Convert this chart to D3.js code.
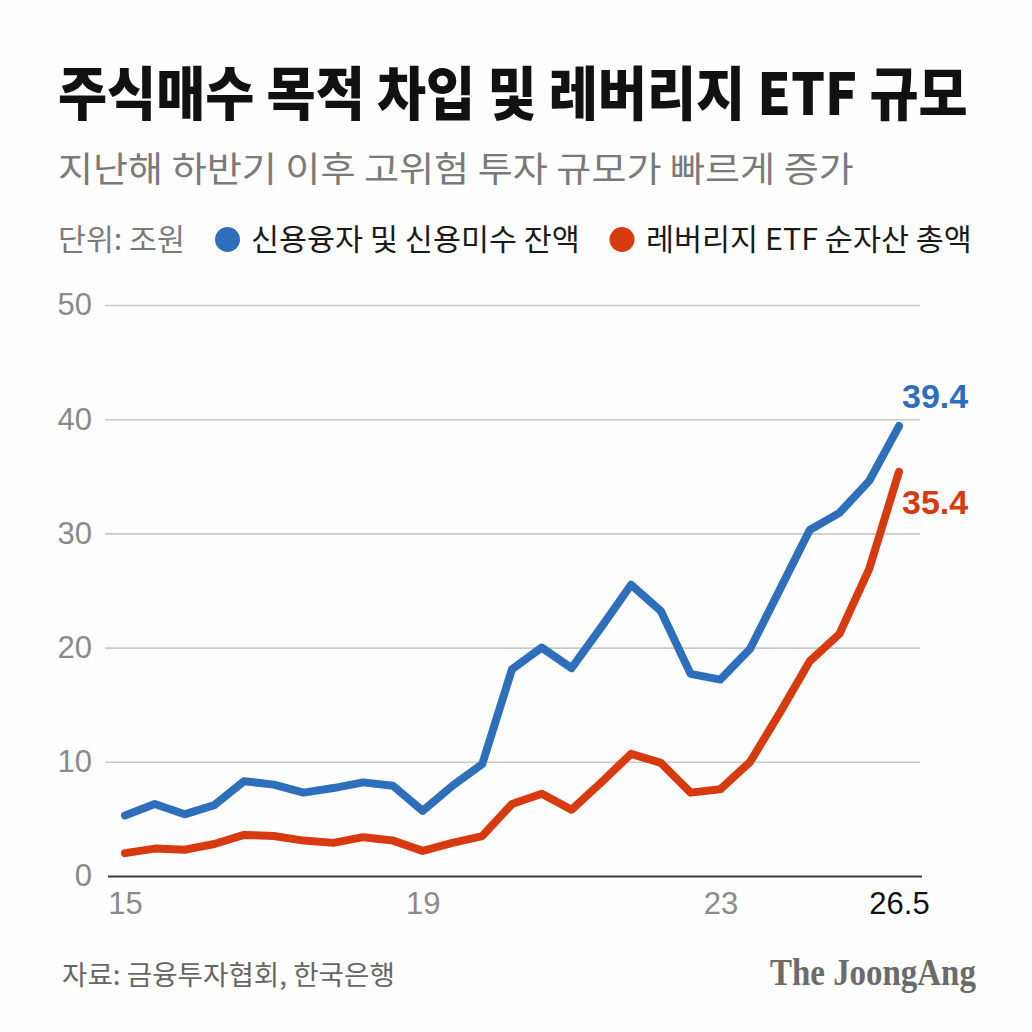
<!DOCTYPE html>
<html>
<head>
<meta charset="utf-8">
<script src="https://cdn.jsdelivr.net/npm/d3@7/dist/d3.min.js"></script>
<style>
  html, body { margin: 0; padding: 0; background: #fefefe; }
  svg { display: block; }
</style>
</head>
<body>
<svg id="chart" width="1032" height="1032"></svg>
<script>
// ---- data ----
const titleText = "주식매수 목적 차입 및 레버리지 ETF 규모";
const subtitleText = "지난해 하반기 이후 고위험 투자 규모가 빠르게 증가";
const unitText = "단위: 조원";
const sourceText = "자료: 금융투자협회, 한국은행";
const logoText = "The JoongAng";
const seriesNames = ["신용융자 및 신용미수 잔액", "레버리지 ETF 순자산 총액"];
// 27 observations, evenly spaced on the category axis
const creditLoans = [5.3, 6.3, 5.4, 6.2, 8.3, 8.0, 7.3, 7.7, 8.2, 7.9, 5.7, 7.9, 9.8, 18.1, 20.0, 18.2, 21.8, 25.5, 23.2, 17.7, 17.2, 19.9, 25.1, 30.3, 31.8, 34.6, 39.4];
const leveragedETF = [2.0, 2.4, 2.3, 2.8, 3.6, 3.5, 3.1, 2.9, 3.4, 3.1, 2.2, 2.9, 3.5, 6.3, 7.2, 5.8, 8.2, 10.7, 9.9, 7.3, 7.6, 10.0, 14.3, 18.8, 21.2, 26.9, 35.4];
const xTickIndex = [0, 10, 20, 26];
const xTickLabels = ["15", "19", "23", "26.5"];
const yTicks = [0, 10, 20, 30, 40, 50];
const endLabels = ["39.4", "35.4"];

// ---- styles ----
const BLUE = "#2d6fbb";
const RED = "#d83a10";
const KR = "'Noto Sans CJK KR', 'Noto Sans', sans-serif";
const NUM = "'Liberation Sans', Arial, sans-serif";

const svg = d3.select("#chart");
svg.append("rect").attr("width", 1032).attr("height", 1032).attr("fill", "#fefefe");

// place a text at (x, baseline) and squeeze it horizontally to the given width
function fitText(str, x0, y0, width, attrs) {
  const t = svg.append("text").text(str).attr("x", 0).attr("y", 0);
  Object.entries(attrs).forEach(([k, v]) => t.attr(k, v));
  const natural = t.node().getComputedTextLength();
  const sx = width / natural;
  t.attr("transform", `translate(${x0},${y0}) scale(${sx},1)`);
  return t;
}

// ---- header ----
fitText(titleText, 58, 115, 910, {
  "font-family": KR, "font-weight": 900, "font-size": 58, "fill": "#111"
});
fitText(subtitleText, 58, 182, 796, {
  "font-family": KR, "font-weight": 400, "font-size": 35, "fill": "#7a7a7a"
});
fitText(unitText, 58, 250, 127, {
  "font-family": KR, "font-size": 30, "fill": "#7a7a7a"
});

const legend = [
  {cx: 227.5, tx: 251, w: 329, color: BLUE, name: seriesNames[0]},
  {cx: 622, tx: 646, w: 326, color: RED, name: seriesNames[1]}
];
legend.forEach(l => {
  svg.append("circle").attr("cx", l.cx).attr("cy", 239.5).attr("r", 12.5).attr("fill", l.color);
  fitText(l.name, l.tx, 250, l.w, {
    "font-family": KR, "font-size": 30, "fill": "#1a1a1a"
  });
});

// ---- scales ----
const x = d3.scaleLinear().domain([0, creditLoans.length - 1]).range([125, 899]);
const y = d3.scaleLinear().domain([0, 50]).range([876, 305]);

// ---- y axis with gridlines ----
const gridLeft = 105, gridRight = 920;
const yAxis = d3.axisLeft(y).tickValues(yTicks).tickSize(-(gridRight - gridLeft)).tickPadding(13);
const yg = svg.append("g").attr("transform", `translate(${gridLeft},0)`).call(yAxis);
yg.select(".domain").remove();
yg.selectAll(".tick line").attr("stroke", "#c9c9c9").attr("stroke-width", 1.6);
yg.selectAll(".tick text")
  .attr("font-family", NUM).attr("font-size", 31).attr("fill", "#8a8a8a");
yg.selectAll(".tick").filter(d => d === 0).select("line")
  .attr("stroke", "#3a3a3a").attr("stroke-width", 1.8)
  .attr("x1", 3).attr("x2", gridRight - gridLeft + 2);

// ---- x axis ----
const xAxis = d3.axisBottom(x).tickValues(xTickIndex)
  .tickFormat((d, i) => xTickLabels[i]).tickSize(0).tickPadding(16);
const xg = svg.append("g").attr("transform", `translate(0,${y(0)})`).call(xAxis);
xg.select(".domain").remove();
xg.selectAll(".tick text")
  .attr("font-family", NUM).attr("font-size", 31)
  .attr("fill", (d, i) => i === xTickIndex.length - 1 ? "#111" : "#8a8a8a");

// ---- lines ----
const line = d3.line().x((d, i) => x(i)).y(d => y(d));
[[leveragedETF, RED], [creditLoans, BLUE]].forEach(([vals, color]) => {
  svg.append("path").datum(vals)
    .attr("d", line)
    .attr("fill", "none")
    .attr("stroke", color)
    .attr("stroke-width", 8)
    .attr("stroke-linejoin", "round")
    .attr("stroke-linecap", "round");
});

// ---- end labels ----
const lastI = creditLoans.length - 1;
svg.append("text").text(endLabels[0])
  .attr("x", x(lastI) + 3).attr("y", y(creditLoans[lastI]) - 18)
  .attr("font-family", NUM).attr("font-weight", 700).attr("font-size", 34)
  .attr("fill", BLUE);
svg.append("text").text(endLabels[1])
  .attr("x", x(lastI) + 3).attr("y", y(leveragedETF[lastI]) + 42)
  .attr("font-family", NUM).attr("font-weight", 700).attr("font-size", 34)
  .attr("fill", RED);

// ---- footer ----
fitText(sourceText, 62, 985, 333, {
  "font-family": KR, "font-size": 27, "fill": "#666"
});
fitText(logoText, 770, 985, 206, {
  "font-family": "'Liberation Serif', 'DejaVu Serif', serif",
  "font-weight": 700, "font-size": 38, "fill": "#6b6b6b"
});
</script>
</body>
</html>
